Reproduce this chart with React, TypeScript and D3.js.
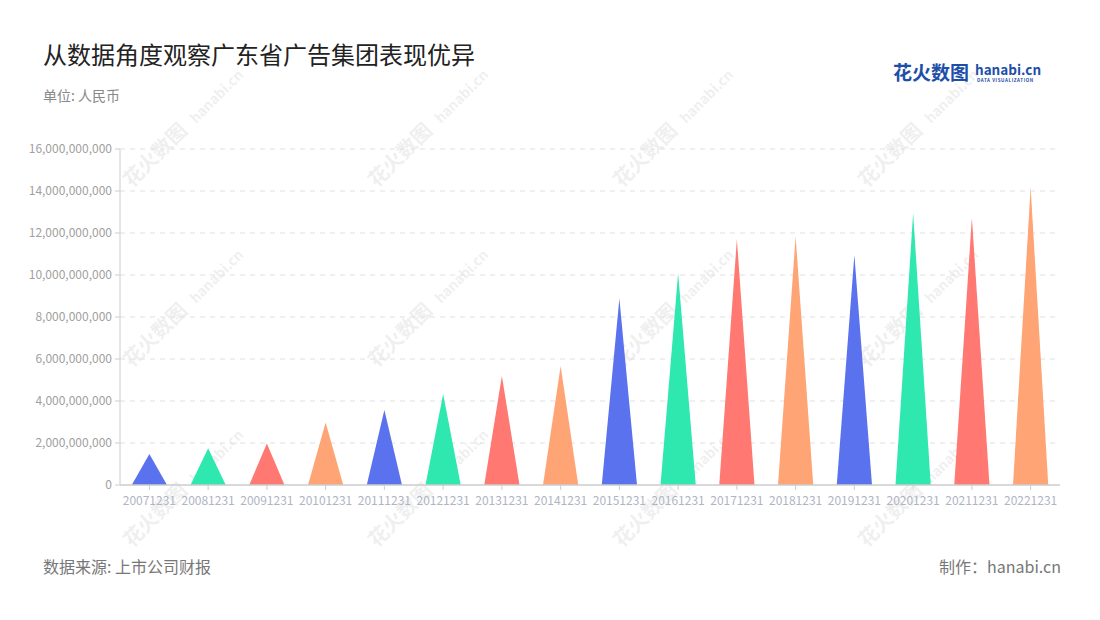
import React from "react";
import * as d3 from "d3";

const categories = ["20071231","20081231","20091231","20101231","20111231","20121231","20131231","20141231","20151231","20161231","20171231","20181231","20191231","20201231","20211231","20221231"];
const values = [1.48e9,1.75e9,1.98e9,2.98e9,3.57e9,4.33e9,5.19e9,5.67e9,8.88e9,10.08e9,11.7e9,11.83e9,10.95e9,12.94e9,12.73e9,14.18e9];
const yTicks = [0,2e9,4e9,6e9,8e9,10e9,12e9,14e9,16e9];
const palette = ["#5b72ee","#2ee8b0","#ff7872","#ffa474"];

const W = 1100, H = 620;
const left = 120, right = 1060, top = 149, bottom = 485;
const font = "'Noto Sans CJK SC', 'Noto Sans', sans-serif";

export default function App() {
  const x = d3.scaleBand().domain(categories).range([left, right]).padding(0);
  const y = d3.scaleLinear().domain([0, 16e9]).range([bottom, top]);
  const fmt = d3.format(",");
  const bw = x.bandwidth() * 0.6;
  const wmPos: [number, number][] = [];
  for (const wx of [160, 405, 650, 895]) for (const wy of [160, 340, 520]) wmPos.push([wx, wy]);
  return (
    <svg width={W} height={H} style={{ position: "absolute", left: 0, top: 0, background: "#fff" }} fontFamily={font}>
      {wmPos.map(([wx, wy], i) => (
        <g key={i} transform={`translate(${wx},${wy}) rotate(-45)`} opacity={0.07}>
          <text x={0} y={0} fontSize={20} fontWeight={700} fill="#333" textAnchor="middle">花火数图</text>
          <text x={85} y={0} fontSize={14} fontWeight={700} fill="#333" textAnchor="middle">hanabi.cn</text>
        </g>
      ))}
      <text x={43} y={64} fontSize={24} fill="#222">从数据角度观察广东省广告集团表现优异</text>
      <text x={43} y={101} fontSize={14} fill="#888">单位: 人民币</text>
      <g>
        <text x={893} y={80} fontSize={19} fontWeight={700} fill="#1d4fa8">花火数图</text>
        <text x={975} y={75} fontSize={13.5} fontWeight={700} fill="#1d4fa8">hanabi.cn</text>
        <text x={977} y={82} fontSize={4.5} fontWeight={700} fill="#1d4fa8" letterSpacing={0.6}>DATA VISUALIZATION</text>
      </g>
      {yTicks.map(t => (
        <g key={t}>
          {t > 0 && <line x1={left} x2={right} y1={y(t)} y2={y(t)} stroke="#e0e0e0" strokeDasharray="5,5" />}
          <line x1={left - 5} x2={left} y1={y(t)} y2={y(t)} stroke="#ccc" />
          <text x={left - 8} y={y(t)} dy="0.35em" textAnchor="end" fontSize={12} fill="#a0a0a0">{fmt(t)}</text>
        </g>
      ))}
      <line x1={left} x2={left} y1={top} y2={bottom} stroke="#ccc" />
      {categories.map((c, i) => {
        const cx = x(c)! + x.bandwidth() / 2;
        const path = d3.path();
        path.moveTo(cx - bw / 2, y(0));
        path.lineTo(cx, y(values[i]));
        path.lineTo(cx + bw / 2, y(0));
        path.closePath();
        return <path key={c} d={path.toString()} fill={palette[i % 4]} />;
      })}
      <line x1={left} x2={right} y1={bottom} y2={bottom} stroke="#ccc" strokeWidth={1.5} />
      {categories.map(c => {
        const cx = x(c)! + x.bandwidth() / 2;
        return (
          <g key={c}>
            <line x1={cx} x2={cx} y1={bottom} y2={bottom + 5} stroke="#ccc" />
            <text x={cx} y={bottom + 20} textAnchor="middle" fontSize={12} fill="#b0b4c4">{c}</text>
          </g>
        );
      })}
      <text x={43} y={573} fontSize={16} fill="#777">数据来源: 上市公司财报</text>
      <text x={1061} y={573} fontSize={16} fill="#777" textAnchor="end">制作：hanabi.cn</text>
    </svg>
  );
}
